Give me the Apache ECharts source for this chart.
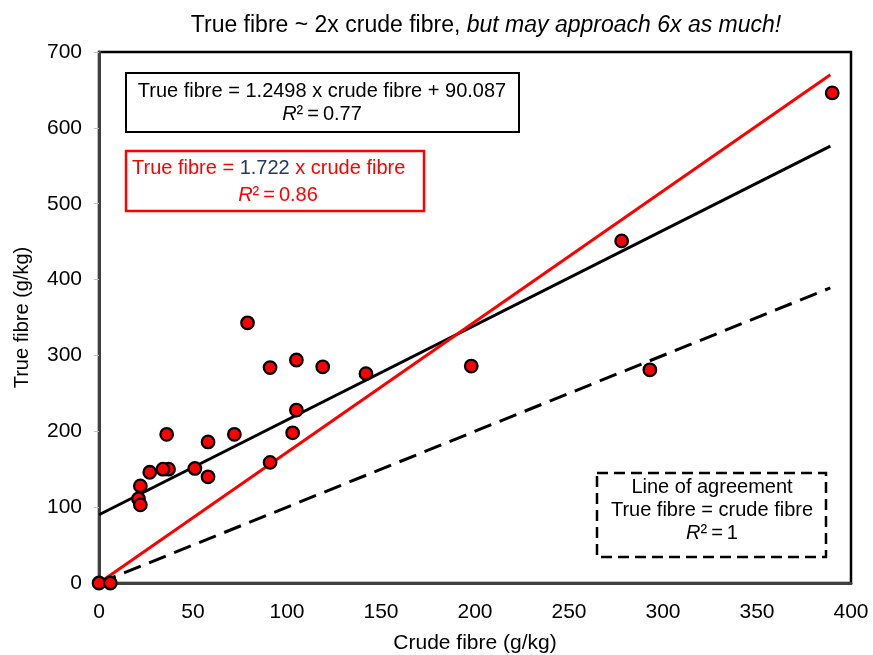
<!DOCTYPE html>
<html>
<head>
<meta charset="utf-8">
<script src="https://cdn.jsdelivr.net/npm/echarts@6/dist/echarts.min.js"></script>
<style>
html,body{margin:0;padding:0;background:#fff;}
#chart{width:873px;height:655px;}
</style>
</head>
<body>
<div id="chart"></div>
<script>
// ---- data ----
const crudeFibre = [79, 91, 105, 119, 105, 103, 91, 72, 58, 58, 51, 36, 37, 34, 27, 22, 21, 22, 0, 6, 142, 198, 278, 293, 390];
const trueFibre  = [343, 284, 294, 285, 228, 198, 159, 196, 186, 140, 151, 196, 150, 150, 146, 128, 111, 103, 0, 0, 276, 286, 451, 281, 646];

// trend line end points (x)
const lineX        = [0, 389];
const fitLinear    = [90, 576];   // True = 1.2498 x crude + 90.087
const fitOrigin    = [0, 670];    // True = 1.722 x crude
const agreement    = [0, 389];    // True = crude

const xTicks = [0, 50, 100, 150, 200, 250, 300, 350, 400];
const yTicks = [0, 100, 200, 300, 400, 500, 600, 700];

const titleNormal = 'True fibre ~ 2x crude fibre, ';
const titleItalic = 'but may approach 6x as much!';
const xName = 'Crude fibre (g/kg)';
const yName = 'True fibre (g/kg)';

const FONT = '"Liberation Sans", Arial, sans-serif';

const pts = crudeFibre.map((c, i) => [c, trueFibre[i]]);
const pair = arr => lineX.map((x, i) => [x, arr[i]]);

const chart = echarts.init(document.getElementById('chart'), null, {renderer: 'canvas'});
chart.setOption({
  backgroundColor: '#fff',
  animation: false,
  textStyle: {fontFamily: FONT},
  title: {
    text: '{n|' + titleNormal + '}{i|' + titleItalic + '}',
    left: 481, top: 9, textAlign: 'center',
    textStyle: {
      fontWeight: 'normal',
      rich: {
        n: {fontSize: 23, color: '#000', fontWeight: 'normal', fontFamily: FONT},
        i: {fontSize: 23, color: '#000', fontWeight: 'normal', fontStyle: 'italic', fontFamily: FONT}
      }
    }
  },
  grid: {left: 99, right: 22, top: 52, bottom: 72, show: true, borderColor: '#000', borderWidth: 2.5,
    containLabel: false, outerBoundsMode: 'none'},
  xAxis: {
    type: 'value', min: xTicks[0], max: xTicks[xTicks.length - 1], interval: 50,
    name: xName, nameLocation: 'middle', nameGap: 50,
    nameTextStyle: {fontSize: 21, color: '#000', fontFamily: FONT},
    axisLine: {show: true, onZero: false, lineStyle: {color: '#404040', width: 3}},
    axisTick: {show: false},
    axisLabel: {fontSize: 21, color: '#000', margin: 19, fontFamily: FONT,
      formatter: v => xTicks.indexOf(v) >= 0 ? String(v) : ''},
    splitLine: {show: false}
  },
  yAxis: {
    type: 'value', min: yTicks[0], max: yTicks[yTicks.length - 1], interval: 100,
    name: yName, nameLocation: 'middle', nameGap: 67, nameRotate: 90,
    nameTextStyle: {fontSize: 20, color: '#000', fontFamily: FONT},
    axisLine: {show: true, onZero: false, lineStyle: {color: '#404040', width: 3}},
    axisTick: {show: true, inside: false, length: 5, lineStyle: {color: '#bfbfbf', width: 1}},
    axisLabel: {fontSize: 21, color: '#000', margin: 17, fontFamily: FONT,
      formatter: v => yTicks.indexOf(v) >= 0 ? String(v) : ''},
    splitLine: {show: false}
  },
  series: [
    {type: 'line', name: 'agreement', data: pair(agreement), symbol: 'none', silent: true, z: 2,
      lineStyle: {color: '#000', width: 3, type: [18, 9]}},
    {type: 'line', name: 'linear', data: pair(fitLinear), symbol: 'none', silent: true, z: 2,
      lineStyle: {color: '#000', width: 3}},
    {type: 'line', name: 'origin', data: pair(fitOrigin), symbol: 'none', silent: true, z: 2,
      lineStyle: {color: '#ff0000', width: 3}},
    {type: 'scatter', name: 'samples', data: pts, symbol: 'circle', symbolSize: 12.5, z: 5,
      itemStyle: {color: '#ff0000', borderColor: '#000', borderWidth: 2.3, opacity: 1}}
  ],
  graphic: [
    {type: 'rect', z: 10, shape: {x: 126, y: 73, width: 393, height: 59},
      style: {fill: '#fff', stroke: '#000', lineWidth: 2}},
    {type: 'text', z: 11, x: 322, y: 91,
      style: {text: 'True fibre = 1.2498 x crude fibre + 90.087', font: '20px ' + FONT, fill: '#000', textAlign: 'center', textVerticalAlign: 'middle'}},
    {type: 'text', z: 11, x: 322, y: 114,
      style: {text: '{i|R}{n|\u00B2\u2009=\u20090.77}', fill: '#000', textAlign: 'center', textVerticalAlign: 'middle',
        rich: {i: {fontStyle: 'italic', fontSize: 20, fontFamily: FONT, fill: '#000'}, n: {fontSize: 20, fontFamily: FONT, fill: '#000'}}}},

    {type: 'rect', z: 10, shape: {x: 126, y: 151, width: 298, height: 60},
      style: {fill: '#fff', stroke: '#ff0000', lineWidth: 2.5}},
    {type: 'text', z: 11, x: 132, y: 168,
      style: {text: '{r|True fibre = }{b|1.722}{r| x crude fibre}', textAlign: 'left', textVerticalAlign: 'middle',
        rich: {r: {fontSize: 20, fontFamily: FONT, fill: '#ff0000'}, b: {fontSize: 20, fontFamily: FONT, fill: '#1f3864'}}}},
    {type: 'text', z: 11, x: 278, y: 195,
      style: {text: '{i|R}{n|\u00B2\u2009=\u20090.86}', textAlign: 'center', textVerticalAlign: 'middle',
        rich: {i: {fontStyle: 'italic', fontSize: 20, fontFamily: FONT, fill: '#ff0000'}, n: {fontSize: 20, fontFamily: FONT, fill: '#ff0000'}}}},

    {type: 'rect', z: 10, shape: {x: 597, y: 473, width: 229, height: 84},
      style: {fill: '#fff', stroke: '#000', lineWidth: 2.5, lineDash: [11, 6]}},
    {type: 'text', z: 11, x: 712, y: 487,
      style: {text: 'Line of agreement', font: '20px ' + FONT, fill: '#000', textAlign: 'center', textVerticalAlign: 'middle'}},
    {type: 'text', z: 11, x: 712, y: 510,
      style: {text: 'True fibre = crude fibre', font: '20px ' + FONT, fill: '#000', textAlign: 'center', textVerticalAlign: 'middle'}},
    {type: 'text', z: 11, x: 712, y: 533,
      style: {text: '{i|R}{n|\u00B2\u2009=\u20091}', textAlign: 'center', textVerticalAlign: 'middle',
        rich: {i: {fontStyle: 'italic', fontSize: 20, fontFamily: FONT, fill: '#000'}, n: {fontSize: 20, fontFamily: FONT, fill: '#000'}}}}
  ]
});
</script>
</body>
</html>
